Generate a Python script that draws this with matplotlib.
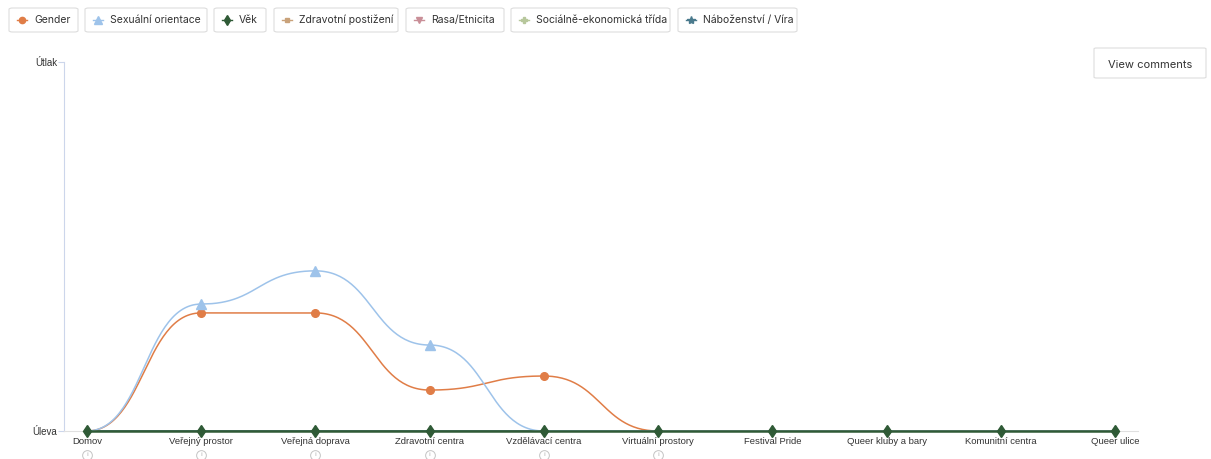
import numpy as np
import matplotlib.pyplot as plt
from matplotlib.patches import FancyBboxPatch
from matplotlib.lines import Line2D

# data
places = ['Domov', 'Veřejný prostor', 'Veřejná doprava', 'Zdravotní centra',
          'Vzdělávací centra', 'Virtuální prostory', 'Festival Pride',
          'Queer kluby a bary', 'Komunitní centra', 'Queer ulice']
has_info = [True, True, True, True, True, True, False, False, False, False]

gender = [0, 0.32, 0.32, 0.111, 0.149, 0, 0, 0, 0, 0]
orientace = [0, 0.344, 0.434, 0.233, 0, 0, 0, 0, 0, 0]
vek = [0, 0, 0, 0, 0, 0, 0, 0, 0, 0]
postizeni = [0, 0, 0, 0, 0, 0, 0, 0, 0, 0]
rasa = [0, 0, 0, 0, 0, 0, 0, 0, 0, 0]
trida = [0, 0, 0, 0, 0, 0, 0, 0, 0, 0]
vira = [0, 0, 0, 0, 0, 0, 0, 0, 0, 0]

y_labels = ['Úleva', 'Útlak']

series = [
    ('Gender', gender, '#e07d47', 'o', 5.5),
    ('Sexuální orientace', orientace, '#9ec3ea', '^', 6.5),
    ('Věk', vek, '#2f5a36', 'd', 6.5),
    ('Zdravotní postižení', postizeni, '#c9a27a', 's', 4.5),
    ('Rasa/Etnicita', rasa, '#c98f98', 'v', 6),
    ('Sociálně-ekonomická třída', trida, '#b7c79c', 'P', 6),
    ('Náboženství / Víra', vira, '#4a7a8d', '*', 7),
]


def bump_x(x, y, n=60):
    # cubic bezier per segment, horizontal tangents at every point
    xs, ys = [], []
    t = np.linspace(0, 1, n)
    for i in range(len(x) - 1):
        x0, x1 = x[i], x[i + 1]
        y0, y1 = y[i], y[i + 1]
        xm = (x0 + x1) / 2
        bx = (1 - t)**3 * x0 + 3 * (1 - t)**2 * t * xm + 3 * (1 - t) * t**2 * xm + t**3 * x1
        by = (1 - t)**3 * y0 + 3 * (1 - t)**2 * t * y0 + 3 * (1 - t) * t**2 * y1 + t**3 * y1
        xs.append(bx)
        ys.append(by)
    return np.concatenate(xs), np.concatenate(ys)


fig = plt.figure(figsize=(12.11, 4.59), dpi=100)
ax = fig.add_axes([64 / 1211, 28 / 459, (1138 - 64) / 1211, (431 - 62) / 459])

x = np.arange(len(places))
order = [3, 4, 5, 6, 0, 1, 2]
for k, idx in enumerate(order):
    name, vals, col, mk, ms = series[idx]
    vals = np.asarray(vals, float)
    sx, sy = bump_x(x, vals)
    lw = 1.8 if name == 'Věk' else 1.1
    ax.plot(sx, sy, color=col, lw=lw, zorder=2 + k, clip_on=False)
    # zero points sit under the Věk diamonds
    show = vals != 0 if name != 'Věk' else np.ones(len(vals), bool)
    ax.plot(x[show], vals[show], ls='none', marker=mk, ms=ms, color=col, mec=col,
            zorder=2 + k, clip_on=False)

ax.set_xlim(-0.2, len(places) - 0.8)
ax.set_ylim(0, 1)
ax.set_xticks(x)
ax.set_xticklabels(places, fontsize=6.8, color='#333333', family='Liberation Sans')
ax.tick_params(axis='x', length=0, pad=4.5)
ax.set_yticks([0, 1])
ax.set_yticklabels(y_labels, fontsize=7, color='#333333', family='Liberation Sans')
ax.tick_params(axis='y', length=4, width=0.8, color='#ccd6eb', pad=1)
for sp in ['top', 'right']:
    ax.spines[sp].set_visible(False)
ax.spines['left'].set_color('#ccd6eb')
ax.spines['bottom'].set_color('#e0e0e0')
ax.spines['left'].set_linewidth(0.8)
ax.spines['bottom'].set_linewidth(0.8)

# info icons under the first labels
tr = ax.get_xaxis_transform()
for i, flag in enumerate(has_info):
    if flag:
        ax.plot(i, -0.065, marker='o', ms=7, mfc='white', mec='#c4c4c4', mew=0.7,
                transform=tr, clip_on=False)
        ax.text(i, -0.065, 'i', transform=tr, ha='center', va='center',
                fontsize=4.5, color='#aaaaaa')

# legend buttons
W, H = 1211, 459
boxes = [(9, 78), (85, 207), (214, 266), (274, 398), (406, 504), (511, 670), (678, 797)]
for (name, vals, col, mk, ms), (x0, x1) in zip(series, boxes):
    fig.patches.append(FancyBboxPatch((x0 / W, 1 - 32 / H), (x1 - x0) / W, 24 / H,
                                      boxstyle='round,pad=0,rounding_size=0.003',
                                      transform=fig.transFigure, fc='white',
                                      ec='#dddddd', lw=0.8))
    mx = x0 + 13
    fig.lines.append(Line2D([(mx - 5) / W, (mx + 5) / W], [1 - 20 / H, 1 - 20 / H],
                            color=col, lw=1.0, transform=fig.transFigure))
    fig.lines.append(Line2D([mx / W], [1 - 20 / H], marker=mk, ms=ms - 1, color=col,
                            mec=col, transform=fig.transFigure))
    fig.text((x0 + 25) / W, 1 - 20 / H, name, fontsize=7.5, color='#333333',
             family='Inter', va='center', ha='left')

# view comments button
fig.patches.append(FancyBboxPatch((1094 / W, 1 - 78 / H), 112 / W, 30 / H,
                                  boxstyle='round,pad=0,rounding_size=0.002',
                                  transform=fig.transFigure, fc='white',
                                  ec='#dddddd', lw=0.8))
fig.text(1150 / W, 1 - 65 / H, 'View comments', fontsize=8, color='#333333',
         family='Inter', ha='center', va='center')

plt.savefig('out.png')
